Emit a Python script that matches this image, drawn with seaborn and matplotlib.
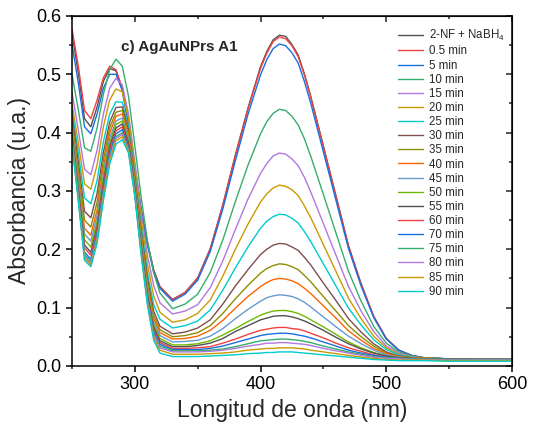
import numpy as np
import pandas as pd
import matplotlib
matplotlib.use("Agg")
import matplotlib.pyplot as plt
import seaborn as sns
from matplotlib.ticker import MultipleLocator

# Longitud de onda (nm), common grid for all spectra
wavelength = [250, 255, 260, 265, 270, 275, 280, 285, 290, 295, 300, 305, 310, 315, 320,
              330, 340, 350, 360, 370, 380, 390, 400, 405, 410, 415, 420, 425, 430, 435, 440,
              450, 460, 470, 480, 490, 500, 510, 520, 530, 550, 575, 600]

# Absorbance, one list per time
a_2nf = [0.570, 0.503, 0.424, 0.410, 0.444, 0.488, 0.510, 0.506, 0.476, 0.416, 0.342, 0.270, 0.212, 0.165, 0.136,
         0.114, 0.126, 0.151, 0.201, 0.276, 0.362, 0.442, 0.513, 0.539, 0.559, 0.567, 0.565, 0.551, 0.533, 0.500, 0.462,
         0.377, 0.292, 0.206, 0.141, 0.085, 0.047, 0.027, 0.018, 0.014, 0.012, 0.011, 0.011]
a_0_5 = [0.578, 0.515, 0.438, 0.424, 0.456, 0.494, 0.514, 0.508, 0.476, 0.415, 0.340, 0.268, 0.210, 0.163, 0.135,
         0.113, 0.126, 0.150, 0.200, 0.275, 0.360, 0.440, 0.510, 0.536, 0.556, 0.564, 0.561, 0.549, 0.530, 0.498, 0.460,
         0.375, 0.290, 0.205, 0.140, 0.085, 0.047, 0.027, 0.018, 0.014, 0.012, 0.012, 0.012]
a_5 = [0.552, 0.486, 0.410, 0.398, 0.432, 0.476, 0.500, 0.500, 0.472, 0.412, 0.338, 0.266, 0.208, 0.161, 0.133,
       0.111, 0.123, 0.147, 0.196, 0.269, 0.352, 0.431, 0.499, 0.525, 0.544, 0.552, 0.549, 0.537, 0.519, 0.487, 0.450,
       0.367, 0.284, 0.201, 0.137, 0.083, 0.046, 0.027, 0.018, 0.014, 0.012, 0.011, 0.011]
a_10 = [0.500, 0.440, 0.374, 0.368, 0.408, 0.466, 0.508, 0.526, 0.514, 0.462, 0.378, 0.290, 0.215, 0.160, 0.125,
        0.098, 0.106, 0.123, 0.160, 0.216, 0.282, 0.344, 0.398, 0.419, 0.433, 0.440, 0.438, 0.428, 0.413, 0.389, 0.359,
        0.294, 0.228, 0.162, 0.111, 0.068, 0.039, 0.024, 0.017, 0.014, 0.012, 0.011, 0.011]
a_15 = [0.470, 0.405, 0.337, 0.328, 0.370, 0.432, 0.476, 0.493, 0.482, 0.432, 0.350, 0.264, 0.190, 0.138, 0.108,
        0.089, 0.094, 0.105, 0.134, 0.180, 0.234, 0.286, 0.330, 0.347, 0.360, 0.365, 0.363, 0.355, 0.343, 0.323, 0.298,
        0.244, 0.190, 0.136, 0.094, 0.059, 0.034, 0.022, 0.016, 0.013, 0.012, 0.011, 0.011]
a_20 = [0.450, 0.383, 0.312, 0.303, 0.345, 0.410, 0.456, 0.475, 0.470, 0.424, 0.342, 0.253, 0.175, 0.120, 0.092,
        0.075, 0.079, 0.090, 0.113, 0.154, 0.200, 0.243, 0.281, 0.295, 0.305, 0.310, 0.308, 0.302, 0.292, 0.274, 0.254,
        0.208, 0.162, 0.116, 0.081, 0.051, 0.031, 0.020, 0.015, 0.013, 0.012, 0.011, 0.011]
a_25 = [0.440, 0.366, 0.288, 0.278, 0.318, 0.384, 0.432, 0.453, 0.452, 0.410, 0.330, 0.240, 0.160, 0.105, 0.080,
        0.065, 0.069, 0.077, 0.096, 0.130, 0.168, 0.204, 0.236, 0.248, 0.256, 0.260, 0.259, 0.253, 0.245, 0.230, 0.213,
        0.175, 0.137, 0.099, 0.070, 0.045, 0.028, 0.019, 0.015, 0.013, 0.012, 0.011, 0.011]
a_30 = [0.430, 0.350, 0.265, 0.254, 0.296, 0.366, 0.418, 0.443, 0.444, 0.404, 0.324, 0.232, 0.150, 0.094, 0.068,
        0.055, 0.058, 0.065, 0.079, 0.106, 0.137, 0.165, 0.191, 0.200, 0.207, 0.210, 0.209, 0.204, 0.198, 0.186, 0.173,
        0.142, 0.112, 0.081, 0.058, 0.038, 0.024, 0.017, 0.014, 0.013, 0.012, 0.011, 0.011]
a_35 = [0.420, 0.338, 0.250, 0.238, 0.281, 0.353, 0.408, 0.435, 0.438, 0.400, 0.320, 0.226, 0.143, 0.087, 0.062,
        0.050, 0.052, 0.057, 0.069, 0.090, 0.115, 0.138, 0.159, 0.167, 0.172, 0.175, 0.174, 0.170, 0.165, 0.155, 0.144,
        0.119, 0.094, 0.069, 0.050, 0.034, 0.022, 0.016, 0.014, 0.013, 0.012, 0.011, 0.011]
a_40 = [0.410, 0.326, 0.236, 0.224, 0.268, 0.341, 0.399, 0.428, 0.432, 0.396, 0.316, 0.220, 0.137, 0.081, 0.057,
        0.046, 0.047, 0.051, 0.061, 0.078, 0.099, 0.119, 0.136, 0.143, 0.148, 0.150, 0.149, 0.146, 0.141, 0.133, 0.124,
        0.103, 0.082, 0.060, 0.044, 0.030, 0.021, 0.016, 0.014, 0.013, 0.012, 0.011, 0.011]
a_45 = [0.405, 0.318, 0.226, 0.214, 0.258, 0.331, 0.390, 0.420, 0.425, 0.390, 0.312, 0.215, 0.131, 0.075, 0.052,
        0.041, 0.042, 0.044, 0.051, 0.064, 0.081, 0.097, 0.111, 0.117, 0.120, 0.122, 0.121, 0.119, 0.115, 0.109, 0.101,
        0.084, 0.067, 0.051, 0.038, 0.027, 0.019, 0.015, 0.013, 0.012, 0.012, 0.011, 0.011]
a_50 = [0.400, 0.311, 0.216, 0.204, 0.248, 0.322, 0.383, 0.414, 0.420, 0.386, 0.308, 0.210, 0.126, 0.070, 0.047,
        0.036, 0.036, 0.038, 0.043, 0.053, 0.064, 0.076, 0.087, 0.091, 0.094, 0.095, 0.095, 0.093, 0.090, 0.085, 0.079,
        0.067, 0.054, 0.041, 0.031, 0.023, 0.017, 0.014, 0.013, 0.012, 0.012, 0.011, 0.011]
a_55 = [0.395, 0.304, 0.207, 0.195, 0.239, 0.314, 0.376, 0.408, 0.415, 0.382, 0.305, 0.206, 0.122, 0.066, 0.043,
        0.033, 0.033, 0.035, 0.039, 0.047, 0.059, 0.069, 0.079, 0.082, 0.085, 0.086, 0.086, 0.084, 0.081, 0.077, 0.072,
        0.061, 0.049, 0.038, 0.029, 0.022, 0.017, 0.014, 0.013, 0.012, 0.012, 0.011, 0.011]
a_60 = [0.392, 0.300, 0.202, 0.190, 0.234, 0.309, 0.371, 0.403, 0.410, 0.378, 0.302, 0.203, 0.119, 0.062, 0.040,
        0.030, 0.030, 0.031, 0.033, 0.039, 0.046, 0.054, 0.061, 0.063, 0.065, 0.066, 0.066, 0.064, 0.063, 0.060, 0.056,
        0.048, 0.039, 0.031, 0.025, 0.019, 0.015, 0.013, 0.012, 0.012, 0.011, 0.011, 0.011]
a_70 = [0.390, 0.296, 0.195, 0.183, 0.227, 0.302, 0.365, 0.398, 0.405, 0.375, 0.299, 0.200, 0.116, 0.058, 0.037,
        0.028, 0.028, 0.028, 0.030, 0.034, 0.040, 0.046, 0.052, 0.054, 0.055, 0.056, 0.056, 0.055, 0.053, 0.051, 0.048,
        0.041, 0.034, 0.027, 0.022, 0.018, 0.015, 0.013, 0.012, 0.012, 0.011, 0.011, 0.011]
a_75 = [0.388, 0.293, 0.191, 0.179, 0.222, 0.297, 0.360, 0.393, 0.400, 0.372, 0.297, 0.198, 0.113, 0.055, 0.034,
        0.026, 0.026, 0.026, 0.027, 0.029, 0.033, 0.038, 0.043, 0.044, 0.045, 0.046, 0.046, 0.045, 0.044, 0.042, 0.040,
        0.034, 0.029, 0.024, 0.020, 0.016, 0.014, 0.013, 0.012, 0.012, 0.011, 0.011, 0.011]
a_80 = [0.386, 0.290, 0.188, 0.176, 0.219, 0.293, 0.356, 0.390, 0.397, 0.370, 0.295, 0.196, 0.111, 0.052, 0.031,
        0.024, 0.024, 0.024, 0.025, 0.027, 0.030, 0.034, 0.037, 0.039, 0.039, 0.040, 0.040, 0.039, 0.038, 0.037, 0.035,
        0.030, 0.026, 0.022, 0.018, 0.015, 0.013, 0.012, 0.011, 0.011, 0.010, 0.010, 0.010]
a_85 = [0.384, 0.287, 0.185, 0.173, 0.215, 0.289, 0.352, 0.386, 0.393, 0.368, 0.293, 0.194, 0.108, 0.048, 0.027,
        0.020, 0.020, 0.020, 0.021, 0.022, 0.024, 0.027, 0.029, 0.030, 0.030, 0.031, 0.031, 0.031, 0.030, 0.029, 0.027,
        0.024, 0.021, 0.018, 0.015, 0.013, 0.011, 0.010, 0.010, 0.010, 0.009, 0.009, 0.009]
a_90 = [0.380, 0.283, 0.181, 0.170, 0.210, 0.283, 0.346, 0.380, 0.388, 0.365, 0.290, 0.191, 0.105, 0.044, 0.022,
        0.016, 0.016, 0.016, 0.017, 0.018, 0.019, 0.021, 0.022, 0.023, 0.023, 0.024, 0.024, 0.024, 0.023, 0.022, 0.021,
        0.019, 0.017, 0.015, 0.013, 0.011, 0.010, 0.009, 0.009, 0.009, 0.008, 0.008, 0.008]

labels = ["2-NF + NaBH$_4$", "0.5 min", "5 min", "10 min", "15 min", "20 min", "25 min",
          "30 min", "35 min", "40 min", "45 min", "50 min", "55 min", "60 min", "70 min",
          "75 min", "80 min", "85 min", "90 min"]

# Origin "Bright" colour cycle
colors = ["#515151", "#F14040", "#1A6FDF", "#37AD6B", "#B177DE", "#CC9900", "#00CBCC",
          "#7D4E4E", "#8E8E00", "#FB6501", "#6699CC", "#6FB802",
          "#515151", "#F14040", "#1A6FDF", "#37AD6B", "#B177DE", "#CC9900", "#00CBCC"]

series = [a_2nf, a_0_5, a_5, a_10, a_15, a_20, a_25, a_30, a_35, a_40, a_45, a_50,
          a_55, a_60, a_70, a_75, a_80, a_85, a_90]

# long table for seaborn
rows = []
for lab, vals in zip(labels, series):
    for w, v in zip(wavelength, vals):
        rows.append((w, v, lab))
df = pd.DataFrame(rows, columns=["wl", "abs", "serie"])

sns.set_style("ticks")
plt.rcParams['font.family'] = ['Liberation Sans', 'DejaVu Sans']
plt.rcParams['mathtext.fontset'] = 'custom'
plt.rcParams['mathtext.rm'] = 'Liberation Sans'
plt.rcParams['mathtext.default'] = 'regular'

fig = plt.figure(figsize=(5.33, 4.32), dpi=100)
ax = fig.add_axes([0.135, 0.153, 0.8255, 0.810])

sns.lineplot(data=df, x="wl", y="abs", hue="serie", hue_order=labels, palette=colors,
             linewidth=1.0, estimator=None, sort=False, ax=ax)

ax.set_xlim(250, 600)
ax.set_ylim(0, 0.6)
ax.xaxis.set_major_locator(MultipleLocator(100))
ax.xaxis.set_minor_locator(MultipleLocator(50))
ax.yaxis.set_major_locator(MultipleLocator(0.1))
ax.yaxis.set_minor_locator(MultipleLocator(0.05))
ax.yaxis.set_major_formatter(matplotlib.ticker.FormatStrFormatter('%.1f'))
ax.tick_params(which='major', direction='out', length=4, width=1.1, labelsize=13, colors='black')
ax.tick_params(which='minor', direction='out', length=2.5, width=1.1)
for s in ax.spines.values():
    s.set_linewidth(1.1)
    s.set_color('black')

# top / right ticks point inward
top = ax.secondary_xaxis('top')
top.xaxis.set_major_locator(MultipleLocator(100))
top.xaxis.set_minor_locator(MultipleLocator(50))
top.tick_params(which='major', direction='in', length=4, width=1.1, labeltop=False)
top.tick_params(which='minor', direction='in', length=2.5, width=1.1)
right = ax.secondary_yaxis('right')
right.yaxis.set_major_locator(MultipleLocator(0.1))
right.yaxis.set_minor_locator(MultipleLocator(0.05))
right.tick_params(which='major', direction='in', length=4, width=1.1, labelright=False)
right.tick_params(which='minor', direction='in', length=2.5, width=1.1)

ax.set_xlabel("Longitud de onda (nm)", fontsize=16.5)
ax.set_ylabel("Absorbancia (u.a.)", fontsize=16.5)

ax.text(289, 0.547, "c) AgAuNPrs A1", fontsize=11, fontweight='bold', va='center', ha='left')

handles, labs = ax.get_legend_handles_labels()
ax.legend(handles, labs, loc='upper left', bbox_to_anchor=(0.741, 0.965), frameon=False,
          fontsize=8.3, handlelength=2.2, handletextpad=0.45, labelspacing=0.185,
          borderpad=0, borderaxespad=0)

fig.savefig("out.png", dpi=100)
